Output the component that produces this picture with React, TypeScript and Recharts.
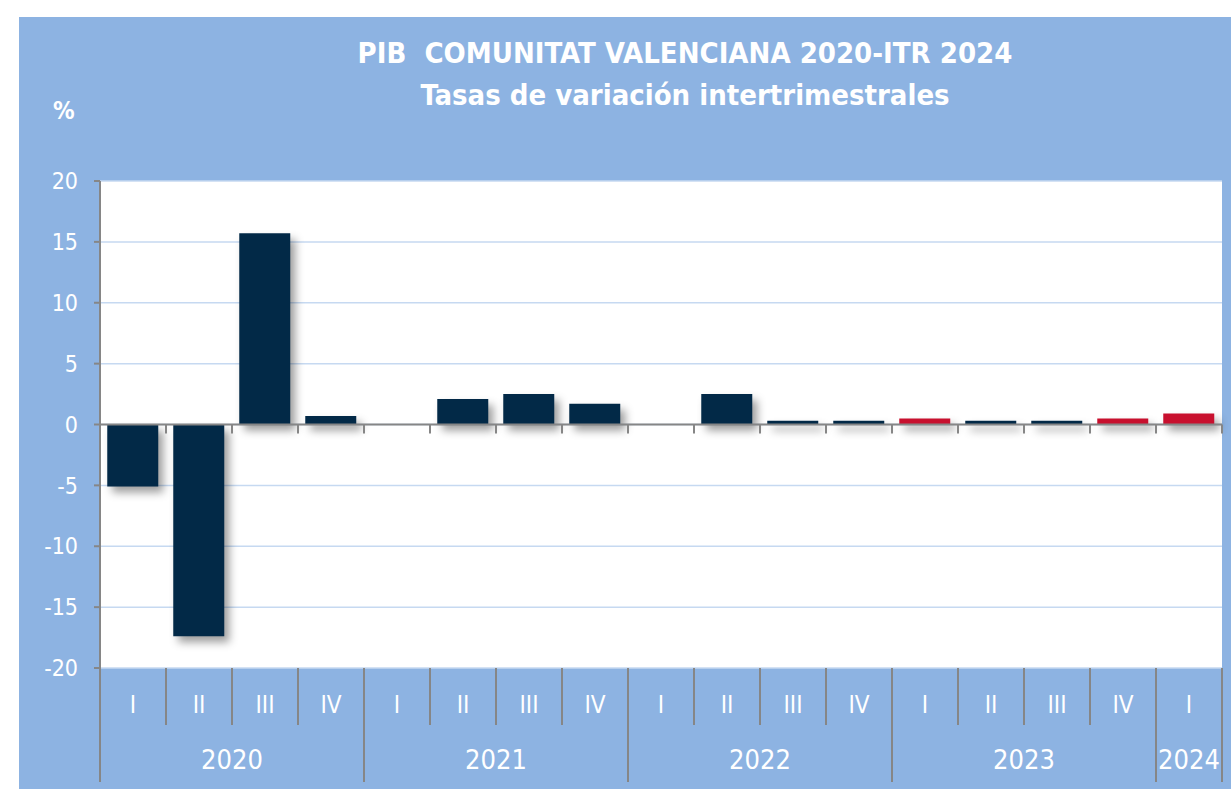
import React from 'react';
import { ComposedChart, Bar, XAxis, YAxis, CartesianGrid, ReferenceLine, Cell } from 'recharts';

const quarters = ['I', 'II', 'III', 'IV', 'I', 'II', 'III', 'IV', 'I', 'II', 'III', 'IV', 'I', 'II', 'III', 'IV', 'I'];
const years = ['2020', '2020', '2020', '2020', '2021', '2021', '2021', '2021', '2022', '2022', '2022', '2022', '2023', '2023', '2023', '2023', '2024'];
const values = [-5.1, -17.4, 15.7, 0.7, 0.0, 2.1, 2.5, 1.7, 0.0, 2.5, 0.3, 0.3, 0.5, 0.3, 0.3, 0.5, 0.9];
const highlighted = [false, false, false, false, false, false, false, false, false, false, false, false, true, false, false, true, true];
const yTicks = [-20, -15, -10, -5, 0, 5, 10, 15, 20];
const titleLine1 = 'PIB  COMUNITAT VALENCIANA 2020-ITR 2024';
const titleLine2 = 'Tasas de variación intertrimestrales';
const unitLabel = '%';

const data = quarters.map((q, i) => ({ key: `${years[i]}-${q}-${i}`, quarter: q, year: years[i], value: values[i], hl: highlighted[i] }));

const FONT = "'Liberation Sans Narrow', 'DejaVu Sans Condensed', 'Roboto', sans-serif";
const BG = '#8DB3E2';
const NAVY = '#022947';
const RED = '#C8102E';
const AXIS_GREY = '#868686';
const GRID = '#C6D9F1';

const CHART_W = 1212;
const CHART_H = 772;
const Y_AXIS_W = 81;
const M_TOP = 164;
const M_RIGHT = 9;
const X_AXIS_H = 121;
const PLOT_W = CHART_W - Y_AXIS_W - M_RIGHT;
const PLOT_BOTTOM = CHART_H - X_AXIS_H;
const N = quarters.length;

const CategoryTick = (props: any) => {
  const { x, payload } = props;
  const i: number = payload.index;
  const bw = PLOT_W / N;
  const left = x - bw / 2;
  const top = PLOT_BOTTOM;
  const yearStart = i === 0 || years[i] !== years[i - 1];
  const yearCount = years.filter((y) => y === years[i]).length;
  const last = i === N - 1;
  return (
    <g>
      <line x1={left} x2={left} y1={top} y2={top + (yearStart ? 114 : 57)} stroke={AXIS_GREY} strokeWidth={2} />
      {last && <line x1={left + bw} x2={left + bw} y1={top} y2={top + 114} stroke={AXIS_GREY} strokeWidth={2} />}
      <text x={x} y={top + 45} textAnchor="middle" fill="#FFFFFF" fontSize={24} fontFamily={FONT}>
        {payload.value}
      </text>
      {yearStart && (
        <text x={left + (yearCount * bw) / 2} y={top + 101} textAnchor="middle" fill="#FFFFFF" fontSize={27} fontFamily={FONT}>
          {years[i]}
        </text>
      )}
    </g>
  );
};

const ZeroLine = (props: any) => {
  const { x1, x2, y1 } = props;
  const bw = (x2 - x1) / N;
  const marks = Array.from({ length: N + 1 }, (_, k) => x1 + k * bw);
  return (
    <g>
      <line x1={x1} x2={x2} y1={y1} y2={y1} stroke={AXIS_GREY} strokeWidth={2} />
      {marks.map((mx, k) => (
        <line key={k} x1={mx} x2={mx} y1={y1} y2={y1 + 9} stroke={AXIS_GREY} strokeWidth={2} />
      ))}
    </g>
  );
};

export default function App() {
  return (
    <div style={{ position: 'absolute', left: 0, top: 0, width: 1231, height: 789, background: '#FFFFFF', overflow: 'hidden' }}>
      <style>{`.recharts-bar-rectangle path { filter: drop-shadow(5px 6px 4px rgba(0,0,0,0.38)); }`}</style>
      <div style={{ position: 'absolute', left: 19, top: 17, width: CHART_W, height: CHART_H, background: BG }}>
        <div style={{ position: 'absolute', left: 0, width: 1332, top: 15, textAlign: 'center', color: '#FFFFFF', fontFamily: FONT, fontWeight: 'bold', fontSize: 29, lineHeight: '42px', whiteSpace: 'pre' }}>
          <div>{titleLine1}</div>
          <div>{titleLine2}</div>
        </div>
        <div style={{ position: 'absolute', left: 34, top: 80, color: '#FFFFFF', fontFamily: FONT, fontWeight: 'bold', fontSize: 24 }}>{unitLabel}</div>
        <ComposedChart width={CHART_W} height={CHART_H} data={data} margin={{ top: M_TOP, right: M_RIGHT, bottom: 0, left: 0 }} barCategoryGap="11%">
          <CartesianGrid horizontal vertical={false} stroke={GRID} strokeWidth={1.5} fill="#FFFFFF" fillOpacity={1} />
          <YAxis
            type="number"
            domain={[-20, 20]}
            ticks={yTicks}
            interval={0}
            width={Y_AXIS_W}
            axisLine={{ stroke: AXIS_GREY, strokeWidth: 2 }}
            tickLine={{ stroke: AXIS_GREY, strokeWidth: 2 }}
            tickSize={6}
            tickMargin={16}
            tick={{ fill: '#FFFFFF', fontSize: 23, fontFamily: FONT }}
          />
          <XAxis dataKey="quarter" height={X_AXIS_H} axisLine={false} tickLine={false} interval={0} tickSize={0} tick={<CategoryTick />} />
          <Bar dataKey="value" isAnimationActive={false}>
            {data.map((d) => (
              <Cell key={d.key} fill={d.hl ? RED : NAVY} />
            ))}
          </Bar>
          <ReferenceLine y={0} shape={<ZeroLine />} />
        </ComposedChart>
      </div>
    </div>
  );
}
